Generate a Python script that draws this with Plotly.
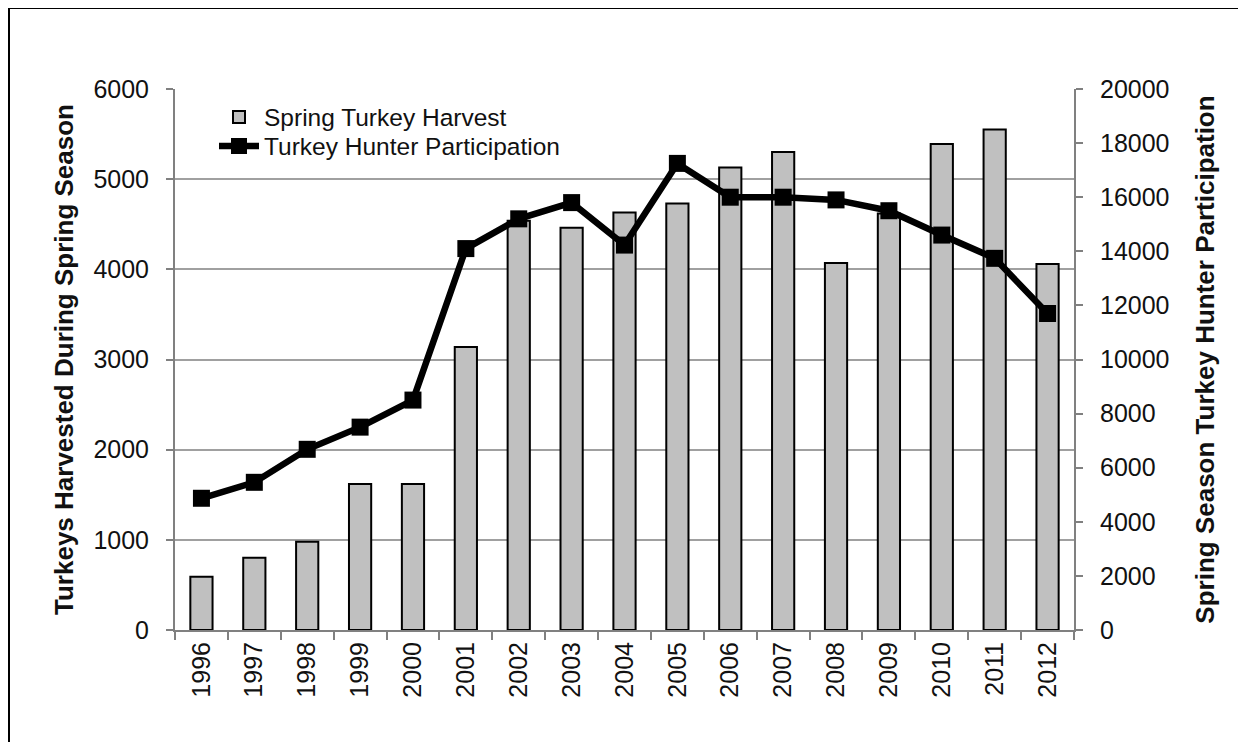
import plotly.graph_objects as go

years = ["1996", "1997", "1998", "1999", "2000", "2001", "2002", "2003", "2004",
         "2005", "2006", "2007", "2008", "2009", "2010", "2011", "2012"]
harvest = [590, 800, 980, 1620, 1620, 3140, 4540, 4460, 4630,
           4730, 5130, 5300, 4070, 4620, 5390, 5550, 4060]
participation = [4870, 5460, 6680, 7500, 8500, 14100, 15200, 15800, 14230,
                 17250, 16000, 16000, 15900, 15500, 14600, 13740, 11700]

FONT = "Liberation Sans, Arial, sans-serif"
TXT = "#111111"

# page body has an 8px margin: figure coords = screen coords - 8
OFF = 8
W, H = 1238, 734
L, T = 167, 81
pw, ph = 899, 541
R, B = W - L - pw, H - T - ph


def px(xs):
    return (xs - OFF - L) / pw


def py(ys):
    return (H - B - (ys - OFF)) / ph


fig = go.Figure()
fig.add_trace(go.Bar(
    x=years, y=harvest, name="Spring Turkey Harvest",
    marker=dict(color="#c0c0c0", line=dict(color="#000000", width=2)),
    yaxis="y", legend="legend",
))
fig.add_trace(go.Scatter(
    x=years, y=participation, name="Turkey Hunter Participation",
    mode="lines+markers",
    line=dict(color="#000000", width=6.5),
    marker=dict(symbol="square", size=17, color="#000000"),
    yaxis="y2", legend="legend2",
))

fig.update_layout(
    width=W, height=H,
    margin=dict(l=L, r=R, t=T, b=B),
    paper_bgcolor="white", plot_bgcolor="white",
    font=dict(family=FONT, size=25, color=TXT),
    bargap=0.58,
    showlegend=True,
    legend=dict(
        x=px(214), y=py(117), xanchor="left", yanchor="middle",
        bgcolor="rgba(0,0,0,0)", font=dict(size=24.5, color=TXT),
        itemwidth=40,
    ),
    legend2=dict(
        x=px(214), y=py(146), xanchor="left", yanchor="middle",
        bgcolor="rgba(0,0,0,0)", font=dict(size=24.5, color=TXT),
        itemwidth=40,
    ),
    xaxis=dict(
        type="category", tickangle=-90,
        showline=True, linecolor="#808080", linewidth=2,
        ticks="outside", tickson="boundaries", ticklen=8, tickcolor="#808080", tickwidth=1.5,
        showgrid=False, tickfont=dict(size=25, color=TXT),
        range=[-0.5, 16.5],
    ),
    yaxis=dict(
        range=[0, 6000], tick0=0, dtick=1000, tickformat="d",
        showline=True, linecolor="#808080", linewidth=2,
        ticks="outside", ticklen=7, tickcolor="#808080", tickwidth=1.5,
        showgrid=True, gridcolor="#a0a0a0", gridwidth=1.5,
        zeroline=False, tickfont=dict(size=25, color=TXT),
        ticklabelstandoff=12,
        title=dict(text="<b>Turkeys Harvested During Spring Season</b>",
                   font=dict(size=26, color=TXT), standoff=12),
    ),
    yaxis2=dict(
        range=[0, 20000], tick0=0, dtick=2000, tickformat="d",
        overlaying="y", side="right",
        showline=True, linecolor="#808080", linewidth=2,
        ticks="outside", ticklen=7, tickcolor="#808080", tickwidth=1.5,
        showgrid=False, zeroline=False, tickfont=dict(size=25, color=TXT),
        ticklabelstandoff=12,
        title=dict(text="<b>Spring Season Turkey Hunter Participation</b>",
                   font=dict(size=26, color=TXT), standoff=27),
    ),
    shapes=[dict(
        type="rect", xref="paper", yref="paper",
        x0=(1 - L) / pw, x1=(1260 - L) / pw,
        y0=(H - B - 780) / ph, y1=(H - B - 0) / ph,
        line=dict(color="#000000", width=2), fillcolor="rgba(0,0,0,0)",
        layer="below",
    )],
)

fig.write_html("out.html")
